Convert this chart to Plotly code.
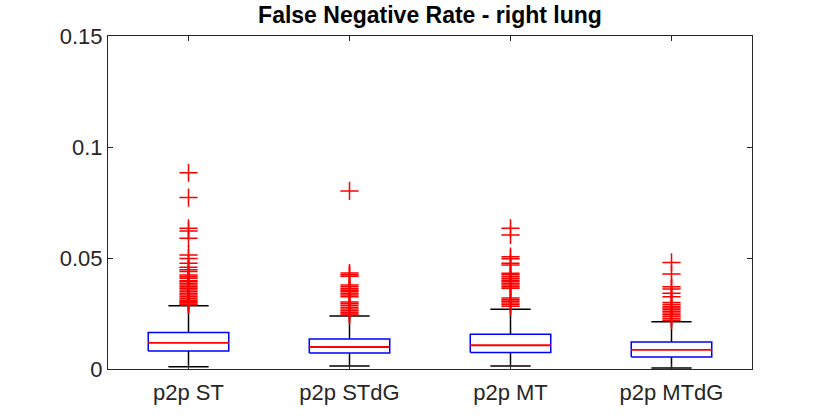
import plotly.graph_objects as go

# Box plot statistics (False Negative Rate, right lung)
methods = ["p2p ST", "p2p STdG", "p2p MT", "p2p MTdG"]
lower_whisker = [0.0010, 0.0014, 0.0014, 0.0005]
q1 = [0.0081, 0.0072, 0.0074, 0.0054]
median = [0.0118, 0.0099, 0.0107, 0.0086]
q3 = [0.0164, 0.0135, 0.0156, 0.0122]
upper_whisker = [0.0285, 0.0239, 0.0269, 0.0213]

outliers_st = [0.0884, 0.0772, 0.0634, 0.0622, 0.0589, 0.0514, 0.0498, 0.0476, 0.0458,
               0.0447, 0.0439, 0.0423, 0.0415, 0.0409, 0.0398, 0.0393, 0.0385, 0.0378,
               0.0370, 0.0364, 0.0356, 0.0348, 0.0340, 0.0333, 0.0325, 0.0318, 0.0310,
               0.0303, 0.0298, 0.0293, 0.0289]
outliers_stdg = [0.0802, 0.0432, 0.0425, 0.0418, 0.0378, 0.0370, 0.0362, 0.0355, 0.0348,
                 0.0340, 0.0333, 0.0326, 0.0302, 0.0295, 0.0287, 0.0278, 0.0270, 0.0262,
                 0.0255, 0.0248, 0.0243]
outliers_mt = [0.0634, 0.0604, 0.0506, 0.0497, 0.0476, 0.0468, 0.0431, 0.0424, 0.0416,
               0.0408, 0.0400, 0.0393, 0.0385, 0.0378, 0.0371, 0.0364, 0.0320, 0.0312,
               0.0305, 0.0297, 0.0290, 0.0283]
outliers_mtdg = [0.0480, 0.0428, 0.0371, 0.0360, 0.0341, 0.0326, 0.0299, 0.0290, 0.0282,
                 0.0275, 0.0268, 0.0260, 0.0252, 0.0244, 0.0236, 0.0228, 0.0220]
outliers = [outliers_st, outliers_stdg, outliers_mt, outliers_mtdg]

y_ticks = [0, 0.05, 0.1, 0.15]
y_ticktext = ["0", "0.05", "0.1", "0.15"]

BOX_HALF = 0.25
CAP_HALF = 0.125
FONT = "Liberation Sans, Arial, sans-serif"
AXIS_COLOR = "#262626"
W, H = 830, 416

pos = list(range(1, len(methods) + 1))

# whiskers (black) - vertical stems + caps
wx, wy = [], []
for i, p in enumerate(pos):
    wx += [p, p, None, p, p, None]
    wy += [q3[i], upper_whisker[i], None, q1[i], lower_whisker[i], None]
    wx += [p - CAP_HALF, p + CAP_HALF, None, p - CAP_HALF, p + CAP_HALF, None]
    wy += [upper_whisker[i], upper_whisker[i], None, lower_whisker[i], lower_whisker[i], None]

# boxes (blue)
bx, by = [], []
for i, p in enumerate(pos):
    bx += [p - BOX_HALF, p + BOX_HALF, p + BOX_HALF, p - BOX_HALF, p - BOX_HALF, None]
    by += [q1[i], q1[i], q3[i], q3[i], q1[i], None]

# medians (red)
mx, my = [], []
for i, p in enumerate(pos):
    mx += [p - BOX_HALF, p + BOX_HALF, None]
    my += [median[i], median[i], None]

# outliers
ox, oy = [], []
for p, vals in zip(pos, outliers):
    ox += [p] * len(vals)
    oy += vals

fig = go.Figure()
fig.add_trace(go.Scatter(x=wx, y=wy, mode="lines",
                         line=dict(color="black", width=1.5), hoverinfo="skip"))
fig.add_trace(go.Scatter(x=bx, y=by, mode="lines",
                         line=dict(color="#0000FF", width=1.5), hoverinfo="skip"))
fig.add_trace(go.Scatter(x=mx, y=my, mode="lines",
                         line=dict(color="#FF0000", width=1.8), hoverinfo="skip"))
fig.add_trace(go.Scatter(x=ox, y=oy, mode="markers",
                         marker=dict(symbol="cross-thin", size=13,
                                     line=dict(color="#FF0000", width=1.5))))

fig.update_layout(
    width=W, height=H,
    margin=dict(l=108, r=78, t=36, b=47),
    paper_bgcolor="white", plot_bgcolor="white",
    showlegend=False,
    font=dict(family=FONT, size=22, color=AXIS_COLOR),
    title=dict(text="<b>False Negative Rate - right lung</b>",
               x=0.5, xref="paper", xanchor="center",
               y=(H - 15) / H, yref="container", yanchor="middle",
               font=dict(family=FONT, size=23, color="black")),
)
fig.update_xaxes(range=[0.5, 4.5], tickvals=pos, ticktext=methods,
                 showline=True, linecolor=AXIS_COLOR, linewidth=1, mirror="ticks",
                 ticks="inside", ticklen=5, tickcolor=AXIS_COLOR,
                 ticklabelstandoff=4,
                 showgrid=False, zeroline=False)
fig.update_yaxes(range=[0, 0.15], tickvals=y_ticks, ticktext=y_ticktext,
                 showline=True, linecolor=AXIS_COLOR, linewidth=1, mirror="ticks",
                 ticks="inside", ticklen=5, tickcolor=AXIS_COLOR,
                 showgrid=False, zeroline=False)

# drop the default page margin so the figure fills the window exactly
fig.write_html("out.html", config={"displayModeBar": False},
               post_script="document.body.style.margin = '0';")
